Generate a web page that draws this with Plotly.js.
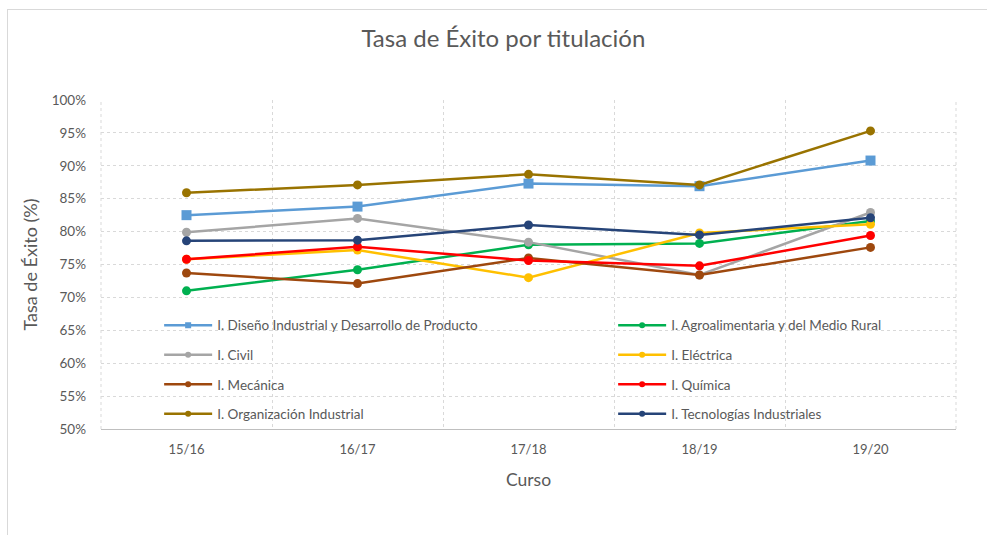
<!DOCTYPE html>
<html>
<head>
<meta charset="utf-8">
<script src="https://cdn.plot.ly/plotly-3.0.1.min.js"></script>
<style>
  html, body { margin: 0; padding: 0; background: #fff; }
  #wrap { position: relative; width: 987px; height: 535px; }
  #chart { width: 987px; height: 535px; }
  #frame { position: absolute; left: 7px; top: 9px; right: -2px; bottom: -2px;
           border: 1px solid #D9D9D9; pointer-events: none; }
</style>
</head>
<body>
<div id="wrap">
  <div id="chart"></div>
  <div id="frame"></div>
</div>
<script>
const cursos = ["15/16", "16/17", "17/18", "18/19", "19/20"];

const disenoIndustrial   = [0.825, 0.838, 0.873, 0.869, 0.908];
const agroalimentaria    = [0.710, 0.742, 0.780, 0.782, 0.816];
const civil              = [0.799, 0.820, 0.784, 0.734, 0.829];
const electrica          = [0.758, 0.772, 0.730, 0.798, 0.811];
const mecanica           = [0.737, 0.721, 0.760, 0.734, 0.776];
const quimica            = [0.758, 0.777, 0.756, 0.748, 0.794];
const organizacion       = [0.859, 0.871, 0.887, 0.871, 0.953];
const tecnologias        = [0.786, 0.787, 0.810, 0.795, 0.821];

const nombres = [
  "I. Diseño Industrial y Desarrollo de Producto",
  "I. Agroalimentaria y del Medio Rural",
  "I. Civil",
  "I. Eléctrica",
  "I. Mecánica",
  "I. Química",
  "I. Organización Industrial",
  "I. Tecnologías Industriales"
];
const series = [disenoIndustrial, agroalimentaria, civil, electrica, mecanica, quimica, organizacion, tecnologias];
const colores = ["#5B9BD5", "#00B050", "#A5A5A5", "#FFC000", "#9E480E", "#FF0000", "#997300", "#264478"];
const simbolos = ["square", "circle", "circle", "circle", "circle", "circle", "circle", "circle"];

// data traces (no legend entries)
const traces = series.map((vals, i) => ({
  type: "scatter",
  mode: "lines+markers",
  x: cursos,
  y: vals,
  name: nombres[i],
  showlegend: false,
  legendgroup: "g" + i,
  line: { color: colores[i], width: 2.5 },
  marker: { color: colores[i], size: simbolos[i] === "square" ? 10 : 9, symbol: simbolos[i] },
  hoverinfo: "x+y+name"
}));

// legend-only entries with small markers, as in the original legend
const legendTraces = series.map((vals, i) => ({
  type: "scatter",
  mode: "lines+markers",
  x: [null],
  y: [null],
  name: nombres[i],
  legend: (i % 2 === 0) ? "legend" : "legend2",
  legendgroup: "g" + i,
  line: { color: colores[i], width: 2.5 },
  marker: { color: colores[i], size: 6, symbol: simbolos[i] },
  hoverinfo: "skip"
}));

const txt = "#595959";
const fontFam = "Lato, 'Open Sans', sans-serif";

const legendBase = {
  orientation: "v",
  bgcolor: "rgba(0,0,0,0)",
  borderwidth: 0,
  font: { family: fontFam, size: 13.5, color: txt },
  tracegroupgap: 9,
  itemsizing: "trace",
  itemwidth: 48,
  xanchor: "left",
  yanchor: "top",
  yref: "paper",
  xref: "paper"
};

const gridCol = "#D9D9D9";

const layout = {
  width: 987,
  height: 535,
  paper_bgcolor: "#ffffff",
  plot_bgcolor: "#ffffff",
  margin: { l: 101, r: 31, t: 100, b: 106 },
  font: { family: fontFam, color: txt },
  title: {
    text: "Tasa de Éxito por titulación",
    font: { family: fontFam, size: 24, color: txt },
    x: 0.51, xref: "container", xanchor: "center",
    y: 0.927, yref: "container", yanchor: "middle"
  },
  xaxis: {
    type: "category",
    range: [-0.5, 4.5],
    tickson: "boundaries",
    showgrid: true,
    gridcolor: gridCol,
    griddash: "dot",
    gridwidth: 1,
    showline: true,
    linecolor: "#BFBFBF",
    linewidth: 1,
    ticks: "",
    tickfont: { family: fontFam, size: 13, color: txt },
    ticklabelstandoff: 8,
    title: { text: "Curso", font: { family: fontFam, size: 17.5, color: txt }, standoff: 18 },
    fixedrange: true
  },
  yaxis: {
    range: [0.5, 1.0],
    dtick: 0.05,
    tick0: 0.5,
    tickformat: ".0%",
    showgrid: true,
    gridcolor: gridCol,
    griddash: "dot",
    gridwidth: 1,
    zeroline: false,
    showline: false,
    ticks: "",
    tickfont: { family: fontFam, size: 13.5, color: txt },
    ticklabelstandoff: 14,
    title: { text: "Tasa de Éxito (%)", font: { family: fontFam, size: 18, color: txt }, standoff: 9 },
    fixedrange: true
  },
  shapes: [
    { type: "line", xref: "paper", yref: "paper", x0: 0, x1: 0, y0: 0, y1: 1,
      line: { color: gridCol, width: 1, dash: "dot" }, layer: "below" },
    { type: "line", xref: "paper", yref: "paper", x0: 1, x1: 1, y0: 0, y1: 1,
      line: { color: gridCol, width: 1, dash: "dot" }, layer: "below" }
  ],
  legend: Object.assign({}, legendBase, { x: 0.068, y: 0.362 }),
  legend2: Object.assign({}, legendBase, { x: 0.599, y: 0.362 }),
  showlegend: true
};

Plotly.newPlot("chart", traces.concat(legendTraces), layout, { displayModeBar: false });
</script>
</body>
</html>
